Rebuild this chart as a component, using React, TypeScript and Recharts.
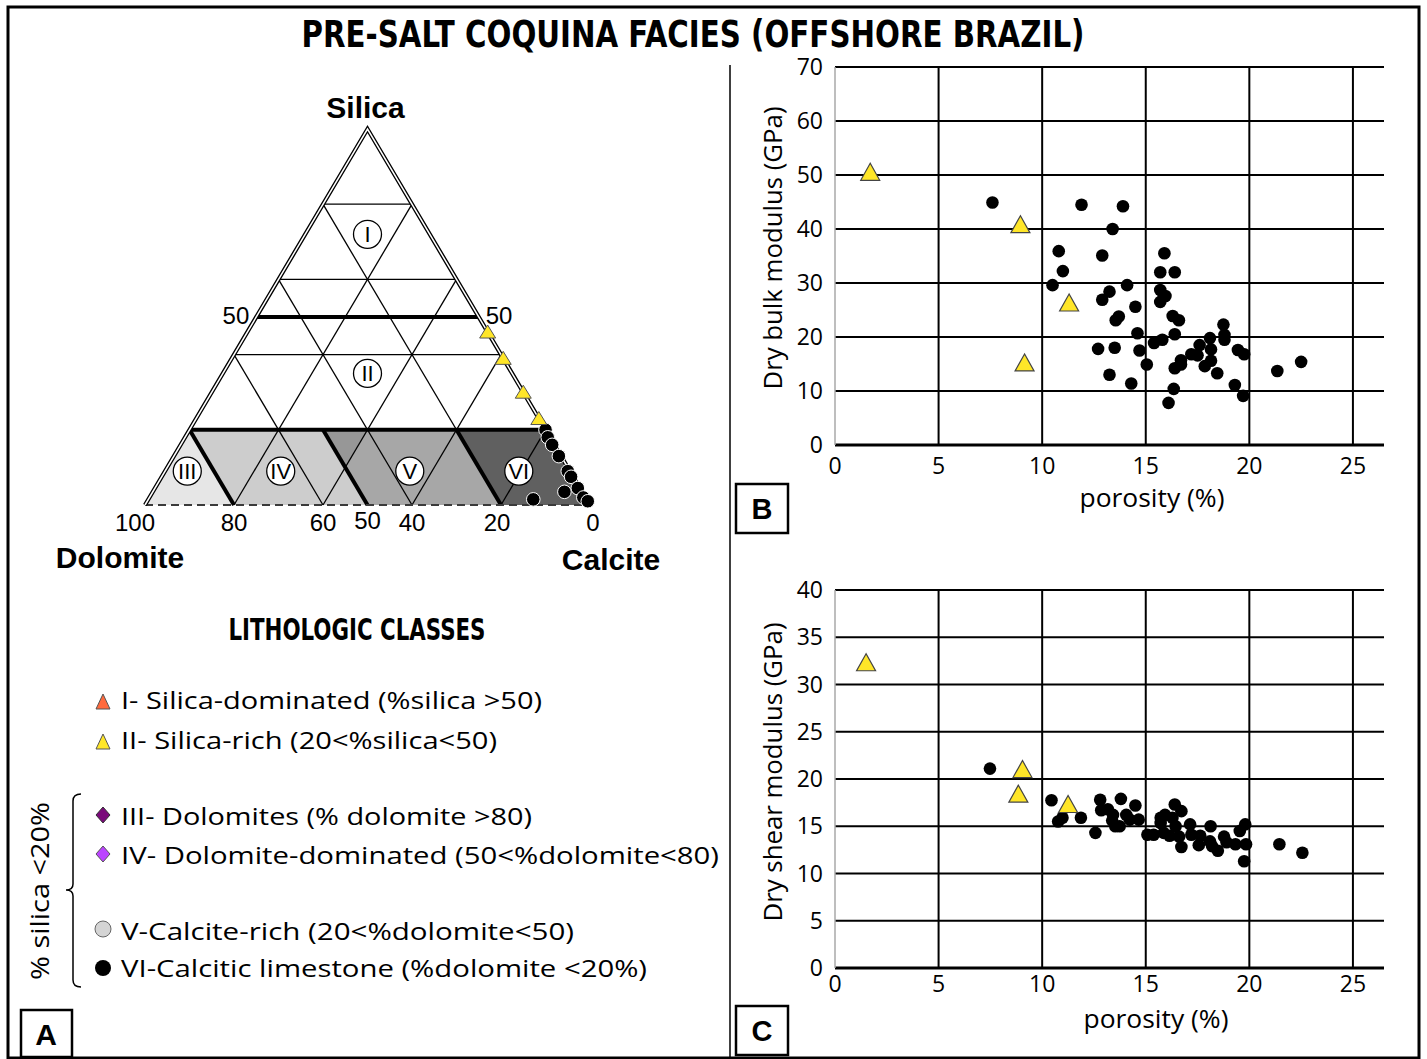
import React from "react";
import {
  ScatterChart,
  Scatter,
  XAxis,
  YAxis,
  CartesianGrid,
  ReferenceArea,
  ReferenceDot,
} from "recharts";

// ---------- Panel A : ternary compositions (% silica, % dolomite; calcite = rest)
const ternRichSilica = [46, 39, 30, 23];
const ternRichDolomite = [0, 0, 0, 0];
const ternLimeSilica = [20, 18, 16, 13, 9, 7.5, 4.5, 3.5, 2, 1, 1.5];
const ternLimeDolomite = [0, 0.5, 0.5, 0.5, 0.5, 0.5, 0.5, 4, 0.5, 0, 12];

// ternary grid / class boundaries
const gridLevels = [20, 40, 60, 80];
const boldSilica = [50, 20];
const boldDolomite = [80, 50, 20];
const dolomiteTicks = [100, 80, 60, 50, 40, 20, 0];
const dolomiteTickShift = [-10, 0, 0, 0, 0, -4, 3];

// class regions as [silica, dolomite] vertices
const regionIII = [[0, 100], [20, 80], [0, 80]];
const regionIV = [[0, 80], [20, 80], [20, 50], [0, 50]];
const regionV = [[0, 50], [20, 50], [20, 20], [0, 20]];
const regionVOverlap = [[20, 50], [20, 40], [10, 50]];
const regionVI = [[0, 20], [20, 20], [20, 0], [0, 0]];

const classNames = ["I", "II", "III", "IV", "V", "VI"];
const classLabelSilica = [72, 35, 9, 9, 9, 9];
const classLabelDolomite = [14, 32.5, 86, 65, 36, 11.5];

// ---------- Panel B : porosity (%) vs dry bulk modulus (GPa)
const bRichPorosity = [1.7, 8.95, 11.3, 9.15];
const bRichBulk = [50.5, 40.8, 26.3, 15.2];
const bLimePorosity = [
  7.6, 11.9, 13.9, 13.4, 10.8, 12.9, 15.9, 11.0, 15.7, 16.4, 10.5, 14.1, 13.25, 15.7,
  15.95, 15.7, 12.9, 14.5, 13.7, 13.55, 16.3, 16.6, 14.6, 16.4, 15.8, 15.4, 12.7, 13.5,
  14.7, 15.05, 13.25, 14.3, 16.35, 16.1, 16.4, 16.7, 16.7, 17.2, 17.6, 17.5, 17.85, 18.1,
  18.15, 18.15, 18.45, 18.75, 18.8, 18.8, 19.45, 19.75, 19.3, 19.7, 21.35, 22.5,
];
const bLimeBulk = [
  44.9, 44.5, 44.2, 40.0, 35.9, 35.1, 35.5, 32.2, 32.0, 32.0, 29.6, 29.6, 28.4, 28.7,
  27.6, 26.5, 26.9, 25.6, 23.8, 23.1, 23.9, 23.1, 20.7, 20.5, 19.5, 18.9, 17.8, 18.0,
  17.5, 14.9, 13.0, 11.4, 10.4, 7.8, 14.2, 15.7, 14.9, 16.8, 18.5, 16.6, 14.6, 19.8,
  17.7, 15.6, 13.3, 22.3, 20.4, 19.5, 17.6, 16.8, 11.1, 9.1, 13.7, 15.4,
];
const bYTicks = [0, 10, 20, 30, 40, 50, 60, 70];

// ---------- Panel C : porosity (%) vs dry shear modulus (GPa)
const cRichPorosity = [1.5, 9.05, 8.85, 11.25];
const cRichShear = [32.3, 21.0, 18.4, 17.3];
const cLimePorosity = [
  7.48, 10.45, 12.8, 13.8, 14.5, 12.85, 13.17, 13.42, 10.77, 10.98, 11.87, 13.38, 13.53,
  13.74, 14.06, 14.23, 14.66, 12.57, 15.08, 15.38, 15.72, 15.93, 15.72, 15.87, 16.15,
  16.4, 16.72, 16.29, 16.44, 16.61, 16.72, 17.14, 17.2, 17.63, 17.56, 18.13, 18.1, 18.2,
  18.48, 18.78, 18.9, 19.33, 19.54, 19.8, 19.84, 19.75, 21.45, 22.56,
];
const cLimeShear = [
  21.1, 17.75, 17.8, 17.9, 17.2, 16.7, 16.8, 16.2, 15.5, 15.9, 15.9, 15.6, 15.0, 15.0,
  16.2, 15.7, 15.7, 14.3, 14.1, 14.1, 15.9, 16.2, 15.35, 14.3, 14.0, 17.3, 16.6, 15.9,
  15.0, 13.9, 12.8, 15.2, 14.1, 14.0, 13.0, 15.0, 13.4, 12.9, 12.4, 13.9, 13.3, 13.1,
  14.5, 15.2, 13.1, 11.3, 13.1, 12.2,
];
const cYTicks = [0, 5, 10, 15, 20, 25, 30, 35, 40];

const xTicks = [0, 5, 10, 15, 20, 25];

const SANS = "'Open Sans', 'DejaVu Sans', sans-serif";
const ARIAL = "'Liberation Sans', Arial, sans-serif";
const COND = "'Liberation Sans Narrow', 'DejaVu Sans Condensed', 'Open Sans', sans-serif";
const YELLOW = "#ffe628";

// ternary -> cartesian (x: 0 = dolomite apex, 100 = calcite apex; y = % silica)
const toXY = (s: number, d: number) => ({ x: 100 - d - s / 2, y: s });

const ternRich = ternRichSilica.map((s, i) => toXY(s, ternRichDolomite[i]));
const ternLime = ternLimeSilica.map((s, i) => toXY(s, ternLimeDolomite[i]));

const zip = (xs: number[], ys: number[]) => xs.map((x, i) => ({ x, y: ys[i] }));

const TernaryBackground = (props: any) => {
  const { x, y, width, height } = props;
  const pt = (s: number, d: number) => {
    const p = toXY(s, d);
    return [x + (p.x / 100) * width, y + height - (p.y / 100) * height];
  };
  const poly = (verts: number[][]) => verts.map(([s, d]) => pt(s, d).join(",")).join(" ");
  const line = (a: number[], b: number[], key: string, extra: any) => {
    const [x1, y1] = pt(a[0], a[1]);
    const [x2, y2] = pt(b[0], b[1]);
    return <line key={key} x1={x1} y1={y1} x2={x2} y2={y2} {...extra} />;
  };
  const thin = { stroke: "#000", strokeWidth: 1.3 };
  const bold = { stroke: "#000", strokeWidth: 4 };
  const edgePath = `M${pt(0, 100).join(",")} L${pt(100, 0).join(",")} L${pt(0, 0).join(",")}`;
  return (
    <g>
      <polygon points={poly(regionIII)} fill="#e6e6e6" />
      <polygon points={poly(regionIV)} fill="#cdcdcd" />
      <polygon points={poly(regionV)} fill="#a7a7a7" />
      <polygon points={poly(regionVOverlap)} fill="#979797" />
      <polygon points={poly(regionVI)} fill="#606060" />
      {gridLevels.map((v) => (
        <g key={v}>
          {line([v, 100 - v], [v, 0], `s${v}`, thin)}
          {line([100 - v, v], [0, v], `d${v}`, thin)}
          {line([100 - v, 0], [0, 100 - v], `c${v}`, thin)}
        </g>
      ))}
      {boldSilica.map((v) => line([v, 100 - v], [v, 0], `bs${v}`, bold))}
      {boldDolomite.map((v) => line([20, v], [0, v], `bd${v}`, bold))}
      {line([0, 100], [0, 0], "bottom", { stroke: "#3a3a3a", strokeWidth: 2, strokeDasharray: "8 5" })}
      <path d={edgePath} fill="none" stroke="#000" strokeWidth={4.2} strokeLinejoin="miter" />
      <path d={edgePath} fill="none" stroke="#fff" strokeWidth={1.5} strokeLinejoin="miter" />
    </g>
  );
};

const TernTriangle = (p: any) => (
  <polygon
    points={`${p.cx},${p.cy - 7} ${p.cx - 8},${p.cy + 6} ${p.cx + 8},${p.cy + 6}`}
    fill={YELLOW}
    stroke="#555"
    strokeWidth={1}
  />
);
const TernDot = (p: any) => <circle cx={p.cx} cy={p.cy} r={6.8} fill="#000" stroke="#fff" strokeWidth={1} />;

const PlotTriangle = (p: any) => (
  <polygon
    points={`${p.cx},${p.cy - 9} ${p.cx - 9.5},${p.cy + 8} ${p.cx + 9.5},${p.cy + 8}`}
    fill={YELLOW}
    stroke="#444"
    strokeWidth={1.2}
  />
);
const PlotDot = (p: any) => <circle cx={p.cx} cy={p.cy} r={6.3} fill="#000" />;

const textShape = (label: string, dx: number, dy: number, style: any) => (p: any) => (
  <text x={p.cx + dx} y={p.cy + dy} {...style}>
    {label}
  </text>
);

const TernaryChart = () => (
  <ScatterChart width={731} height={600} margin={{ top: 129, right: 141, bottom: 95, left: 145 }}>
    <XAxis type="number" dataKey="x" domain={[0, 100]} hide />
    <YAxis type="number" dataKey="y" domain={[0, 100]} hide />
    <ReferenceArea x1={0} x2={100} y1={0} y2={100} shape={TernaryBackground} />
    {classNames.map((n, i) => {
      const p = toXY(classLabelSilica[i], classLabelDolomite[i]);
      return (
        <ReferenceDot
          key={n}
          x={p.x}
          y={p.y}
          shape={(pr: any) => (
            <g>
              <circle cx={pr.cx} cy={pr.cy} r={14} fill="#fff" stroke="#000" strokeWidth={1.3} />
              <text x={pr.cx} y={pr.cy + 8} textAnchor="middle" fontSize={22} fontFamily={ARIAL}>
                {n}
              </text>
            </g>
          )}
        />
      );
    })}
    {dolomiteTicks.map((d, i) => {
      const p = toXY(0, d);
      return (
        <ReferenceDot
          key={`t${d}`}
          x={p.x}
          y={p.y}
          shape={textShape(String(d), dolomiteTickShift[i], d === 50 ? 24 : 26, {
            textAnchor: "middle",
            fontSize: 24,
            fontFamily: ARIAL,
          })}
        />
      );
    })}
    <ReferenceDot
      x={toXY(50, 50).x}
      y={50}
      shape={textShape("50", -7, 7, { textAnchor: "end", fontSize: 24, fontFamily: ARIAL })}
    />
    <ReferenceDot
      x={toXY(50, 0).x}
      y={50}
      shape={textShape("50", 7, 7, { textAnchor: "start", fontSize: 24, fontFamily: ARIAL })}
    />
    <ReferenceDot
      x={toXY(100, 0).x}
      y={100}
      shape={textShape("Silica", -2, -11, { textAnchor: "middle", fontSize: 30, fontWeight: "bold", fontFamily: ARIAL })}
    />
    <ReferenceDot
      x={toXY(0, 100).x}
      y={0}
      shape={textShape("Dolomite", -25, 63, { textAnchor: "middle", fontSize: 30, fontWeight: "bold", fontFamily: ARIAL })}
    />
    <ReferenceDot
      x={toXY(0, 0).x}
      y={0}
      shape={textShape("Calcite", 21, 65, { textAnchor: "middle", fontSize: 30, fontWeight: "bold", fontFamily: ARIAL })}
    />
    <Scatter data={ternLime} shape={TernDot} isAnimationActive={false} />
    <Scatter data={ternRich} shape={TernTriangle} isAnimationActive={false} />
  </ScatterChart>
);

const ModulusChart = ({
  height,
  top,
  bottom,
  yMax,
  yTicks,
  xTickGap,
  rich,
  lime,
}: {
  height: number;
  top: number;
  bottom: number;
  yMax: number;
  yTicks: number[];
  xTickGap: number;
  rich: { x: number; y: number }[];
  lime: { x: number; y: number }[];
}) => (
  <ScatterChart width={689} height={height} margin={{ top, right: 36, bottom, left: 44 }}>
    <CartesianGrid stroke="#000" strokeWidth={2} verticalValues={[5, 10, 15, 20, 25]} />
    <XAxis
      type="number"
      dataKey="x"
      domain={[0, 26.5]}
      ticks={xTicks}
      height={30}
      axisLine={{ stroke: "#000", strokeWidth: 3 }}
      tickLine={false}
      tickSize={0}
      tickMargin={xTickGap}
      tick={{ fontSize: 23, fill: "#000", fontFamily: SANS }}
    />
    <YAxis
      type="number"
      dataKey="y"
      domain={[0, yMax]}
      ticks={yTicks}
      width={60}
      axisLine={{ stroke: "#a8a8a8", strokeWidth: 1.5 }}
      tickLine={false}
      tickSize={0}
      tickMargin={12}
      tick={{ fontSize: 23, fill: "#000", fontFamily: SANS }}
    />
    <Scatter data={lime} shape={PlotDot} isAnimationActive={false} />
    <Scatter data={rich} shape={PlotTriangle} isAnimationActive={false} />
  </ScatterChart>
);

const legendRows = [
  { text: "I- Silica-dominated (%silica >50)", y: 709, len: 421 },
  { text: "II- Silica-rich (20<%silica<50)", y: 749, len: 376 },
  { text: "III- Dolomites (% dolomite >80)", y: 825, len: 411 },
  { text: "IV- Dolomite-dominated (50<%dolomite<80)", y: 864, len: 598 },
  { text: "V-Calcite-rich (20<%dolomite<50)", y: 940, len: 453 },
  { text: "VI-Calcitic limestone (%dolomite <20%)", y: 977, len: 526 },
];

const Overlay = () => (
  <svg width={1427} height={1059} style={{ position: "absolute", left: 0, top: 0 }}>
    <rect x={8} y={7} width={1411} height={1051} fill="none" stroke="#000" strokeWidth={3} />
    <line x1={730} y1={65} x2={730} y2={1059} stroke="#000" strokeWidth={1.5} />
    <text
      x={693}
      y={47}
      textAnchor="middle"
      fontFamily={COND}
      fontWeight="bold"
      fontSize={37}
      textLength={783}
      lengthAdjust="spacingAndGlyphs"
    >
      PRE-SALT COQUINA FACIES (OFFSHORE BRAZIL)
    </text>
    <text
      x={357}
      y={640}
      textAnchor="middle"
      fontFamily={COND}
      fontWeight="bold"
      fontSize={31}
      textLength={257}
      lengthAdjust="spacingAndGlyphs"
    >
      LITHOLOGIC CLASSES
    </text>
    {legendRows.map((r) => (
      <text key={r.text} x={121} y={r.y} fontFamily={SANS} fontSize={24} textLength={r.len} lengthAdjust="spacingAndGlyphs">
        {r.text}
      </text>
    ))}
    <polygon points="103,694 96,709 110,709" fill="#ff6a3d" stroke="#555" strokeWidth={1} />
    <polygon points="103,734 96,749 110,749" fill={YELLOW} stroke="#555" strokeWidth={1} />
    <polygon points="103,807 110,815 103,823 96,815" fill="#7a0a7a" stroke="#333" strokeWidth={1} />
    <polygon points="103,846 110,854 103,862 96,854" fill="#bb44ff" stroke="#555" strokeWidth={1} />
    <circle cx={103} cy={929} r={8} fill="#d4d4d4" stroke="#666" strokeWidth={1} />
    <circle cx={103} cy={968} r={8} fill="#000" />
    <path
      d="M81,794 Q73,794 73,801 L73,884 Q73,890 66,890 Q73,890 73,896 L73,980 Q73,987 81,987"
      fill="none"
      stroke="#000"
      strokeWidth={1.5}
    />
    <text
      transform="translate(49,891) rotate(-90)"
      textAnchor="middle"
      fontFamily={SANS}
      fontSize={26}
      textLength={178}
      lengthAdjust="spacingAndGlyphs"
    >
      % silica {"<"}20%
    </text>
    <rect x={21} y={1010} width={51} height={47} fill="#fff" stroke="#000" strokeWidth={2.5} />
    <text x={46} y={1045} textAnchor="middle" fontFamily={ARIAL} fontWeight="bold" fontSize={30}>
      A
    </text>
    <rect x={736} y={484} width={52} height={49} fill="#fff" stroke="#000" strokeWidth={2.5} />
    <text x={762} y={519} textAnchor="middle" fontFamily={ARIAL} fontWeight="bold" fontSize={29}>
      B
    </text>
    <rect x={736} y={1006} width={52} height={49} fill="#fff" stroke="#000" strokeWidth={2.5} />
    <text x={762} y={1041} textAnchor="middle" fontFamily={ARIAL} fontWeight="bold" fontSize={29}>
      C
    </text>
    <text
      transform="translate(782,248) rotate(-90)"
      textAnchor="middle"
      fontFamily={SANS}
      fontSize={25}
      textLength={283}
      lengthAdjust="spacingAndGlyphs"
    >
      Dry bulk modulus (GPa)
    </text>
    <text
      transform="translate(782,772) rotate(-90)"
      textAnchor="middle"
      fontFamily={SANS}
      fontSize={25}
      textLength={299}
      lengthAdjust="spacingAndGlyphs"
    >
      Dry shear modulus (GPa)
    </text>
    <text x={1152} y={507} textAnchor="middle" fontFamily={SANS} fontSize={25} textLength={145} lengthAdjust="spacingAndGlyphs">
      porosity (%)
    </text>
    <text x={1156} y={1028} textAnchor="middle" fontFamily={SANS} fontSize={25} textLength={145} lengthAdjust="spacingAndGlyphs">
      porosity (%)
    </text>
  </svg>
);

export default function App() {
  return (
    <div style={{ position: "absolute", left: 0, top: 0, width: 1427, height: 1059, background: "#fff", overflow: "hidden" }}>
      <Overlay />
      <div style={{ position: "absolute", left: 0, top: 0 }}>
        <TernaryChart />
      </div>
      <div style={{ position: "absolute", left: 731, top: 40 }}>
        <ModulusChart
          height={470}
          top={27}
          bottom={35}
          yMax={70}
          yTicks={bYTicks}
          xTickGap={13}
          rich={zip(bRichPorosity, bRichBulk)}
          lime={zip(bLimePorosity, bLimeBulk)}
        />
      </div>
      <div style={{ position: "absolute", left: 731, top: 560 }}>
        <ModulusChart
          height={490}
          top={30}
          bottom={52}
          yMax={40}
          yTicks={cYTicks}
          xTickGap={8}
          rich={zip(cRichPorosity, cRichShear)}
          lime={zip(cLimePorosity, cLimeShear)}
        />
      </div>
    </div>
  );
}
